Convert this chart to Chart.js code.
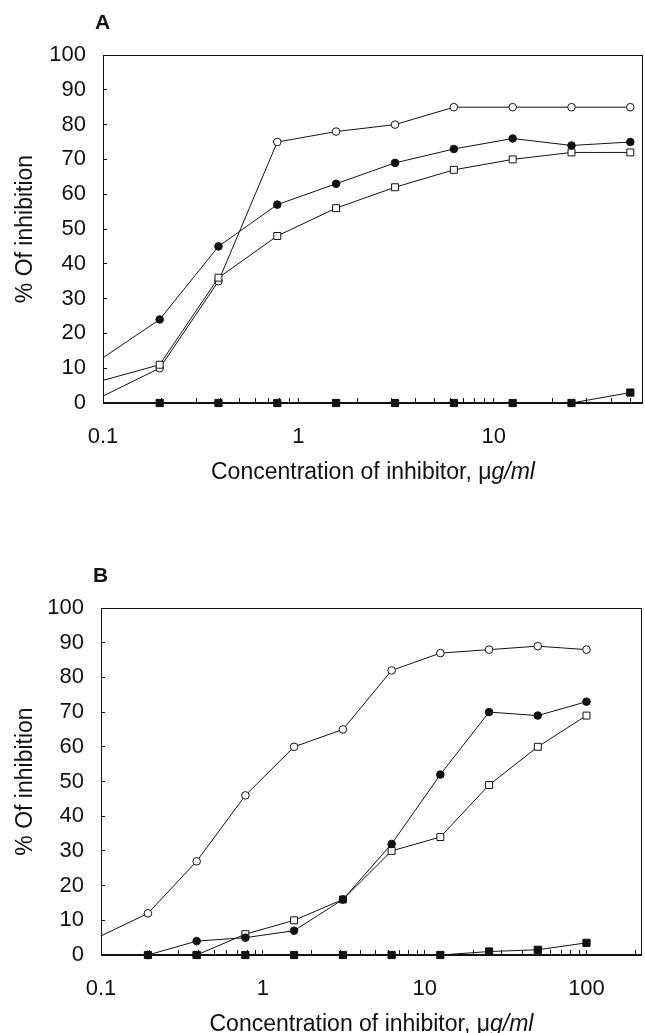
<!DOCTYPE html>
<html>
<head>
<meta charset="utf-8">
<script src="https://cdn.jsdelivr.net/npm/chart.js@4.4.0/dist/chart.umd.min.js"></script>
<style>
  html, body { margin: 0; padding: 0; background: #fff; overflow: hidden; }
  .panel { position: absolute; left: 0; }
  #panelA { top: 0; width: 649px; height: 500px; }
  #panelB { top: 540px; width: 648px; height: 493px; }
</style>
</head>
<body>
<div class="panel" id="panelA"><canvas id="chartA"></canvas></div>
<div class="panel" id="panelB"><canvas id="chartB"></canvas></div>
<script>
// concentrations in ug/ml (two-fold dilutions); 0.1 is where some curves leave the y axis
const concA = [0.1, 0.195, 0.39, 0.78, 1.56, 3.125, 6.25, 12.5, 25, 50];
const openCircleA = [2, 10, 35, 75, 78, 80, 85, 85, 85, 85];
const filledCircleA = [13, 24, 45, 57, 63, 69, 73, 76, 74, 75];
const openSquareA = [6.5, 11, 36, 48, 56, 62, 67, 70, 72, 72];
const filledSquareA = [null, 0, 0, 0, 0, 0, 0, 0, 0, 3];

const concB = [0.1, 0.195, 0.39, 0.78, 1.56, 3.125, 6.25, 12.5, 25, 50, 100];
const openCircleB = [5.5, 12, 27, 46, 60, 65, 82, 87, 88, 89, 88];
const filledCircleB = [null, 0, 4, 5, 7, 16, 32, 52, 70, 69, 73];
const openSquareB = [null, null, 0, 6, 10, 16, 30, 34, 49, 60, 69];
const filledSquareB = [null, 0, 0, 0, 0, 0, 0, 0, 1, 1.5, 3.5];

const xTickLabels = ['0.1', '1', '10', '100'];
const yTitle = '% Of inhibition';
const xTitle = 'Concentration of inhibitor, \u03bc';
const xUnit = 'g/ml';

const FONT = '"Liberation Sans", Arial, Helvetica, sans-serif';
const INK = '#111';
Chart.defaults.font.family = FONT;
Chart.defaults.color = INK;

// marker looks
const styles = {
  openCircle:   { pointStyle: 'circle', r: 3.8, fill: '#fff' },
  filledCircle: { pointStyle: 'circle', r: 3.8, fill: INK },
  openSquare:   { pointStyle: 'rect',   r: 4.9, fill: '#fff' },
  filledSquare: { pointStyle: 'rect',   r: 5.1, fill: INK }
};

function series(conc, values, st) {
  return {
    data: conc.map((c, i) => ({ x: c, y: values[i] })),
    borderColor: INK,
    borderWidth: 1,
    pointStyle: st.pointStyle,
    // no marker where the curve only starts at the axis
    pointRadius: conc.map(c => c === 0.1 ? 0 : st.r),
    pointBackgroundColor: st.fill,
    pointBorderColor: INK,
    pointBorderWidth: 1,
    tension: 0,
    clip: false
  };
}

// 1..9 x 10^k ticks between min and max
function logTicks(min, max) {
  const out = [];
  for (let k = -1; k <= 3; k++) {
    for (let m = 1; m <= 9; m++) {
      const v = m * Math.pow(10, k);
      if (v >= min - 1e-9 && v <= max) out.push({ value: v });
    }
  }
  return out;
}

const frame = {
  id: 'frame',
  beforeDatasetsDraw(chart) {
    const { ctx, chartArea: a } = chart;
    ctx.save();
    ctx.strokeStyle = INK;
    ctx.lineWidth = 1;
    ctx.strokeRect(Math.round(a.left) + 0.5, Math.round(a.top) + 0.5,
      Math.round(a.right - a.left) - 1, Math.round(a.bottom - a.top) - 1);
    ctx.restore();
  }
};

const extras = {
  id: 'extras',
  afterDraw(chart, args, opts) {
    const { ctx, chartArea: a } = chart;
    ctx.save();
    ctx.fillStyle = INK;
    ctx.textBaseline = 'middle';
    ctx.textAlign = 'left';
    ctx.font = 'bold 21px ' + FONT;
    ctx.fillText(opts.letter, a.left - 8, a.top - 32);

    // x title, unit in italics
    ctx.font = '23px ' + FONT;
    const w1 = ctx.measureText(xTitle).width;
    ctx.font = 'italic 23px ' + FONT;
    const w2 = ctx.measureText(xUnit).width;
    const x = (a.left + a.right) / 2 - (w1 + w2) / 2;
    const y = a.bottom + 70;
    ctx.font = '23px ' + FONT;
    ctx.fillText(xTitle, x, y);
    ctx.font = 'italic 23px ' + FONT;
    ctx.fillText(xUnit, x + w1, y);
    ctx.restore();
  }
};

function makeChart(id, letter, conc, sets, xMax, pad, xAxisHeight) {
  const ctx = document.getElementById(id).getContext('2d');
  return new Chart(ctx, {
    type: 'line',
    data: {
      datasets: [
        series(conc, sets[3], styles.filledSquare),
        series(conc, sets[1], styles.filledCircle),
        series(conc, sets[2], styles.openSquare),
        series(conc, sets[0], styles.openCircle)
      ]
    },
    options: {
      responsive: true,
      maintainAspectRatio: false,
      animation: false,
      layout: { padding: pad },
      plugins: {
        legend: { display: false },
        tooltip: { enabled: false },
        extras: { letter: letter }
      },
      scales: {
        x: {
          type: 'logarithmic',
          min: 0.1,
          max: xMax,
          afterBuildTicks(scale) { scale.ticks = logTicks(scale.min, scale.max); },
          afterFit(scale) {
            scale.height = xAxisHeight;
            scale.paddingLeft = 0;
            scale.paddingRight = 0;
          },
          grid: { drawOnChartArea: false, tickLength: -5, color: INK },
          border: { color: INK },
          ticks: {
            autoSkip: false,
            maxRotation: 0,
            padding: 26,
            font: { size: 22 },
            callback: v => xTickLabels.includes(String(v)) ? String(v) : ''
          }
        },
        y: {
          min: 0,
          max: 100,
          afterFit(scale) { scale.width = pad.yAxisWidth; },
          grid: { drawOnChartArea: false, tickLength: -4, color: INK },
          border: { color: INK },
          ticks: { stepSize: 10, padding: 21, font: { size: 22 } },
          title: {
            display: true,
            text: yTitle,
            font: { size: 23 },
            padding: { top: 12, bottom: 0 }
          }
        }
      }
    },
    plugins: [frame, extras]
  });
}

makeChart('chartA', 'A', concA, [openCircleA, filledCircleA, openSquareA, filledSquareA],
  58, { top: 55, right: 0, left: 0, bottom: 0, yAxisWidth: 103 }, 97);
makeChart('chartB', 'B', concB, [openCircleB, filledCircleB, openSquareB, filledSquareB],
  220, { top: 68, right: 0, left: 0, bottom: 0, yAxisWidth: 101 }, 78);
</script>
</body>
</html>
